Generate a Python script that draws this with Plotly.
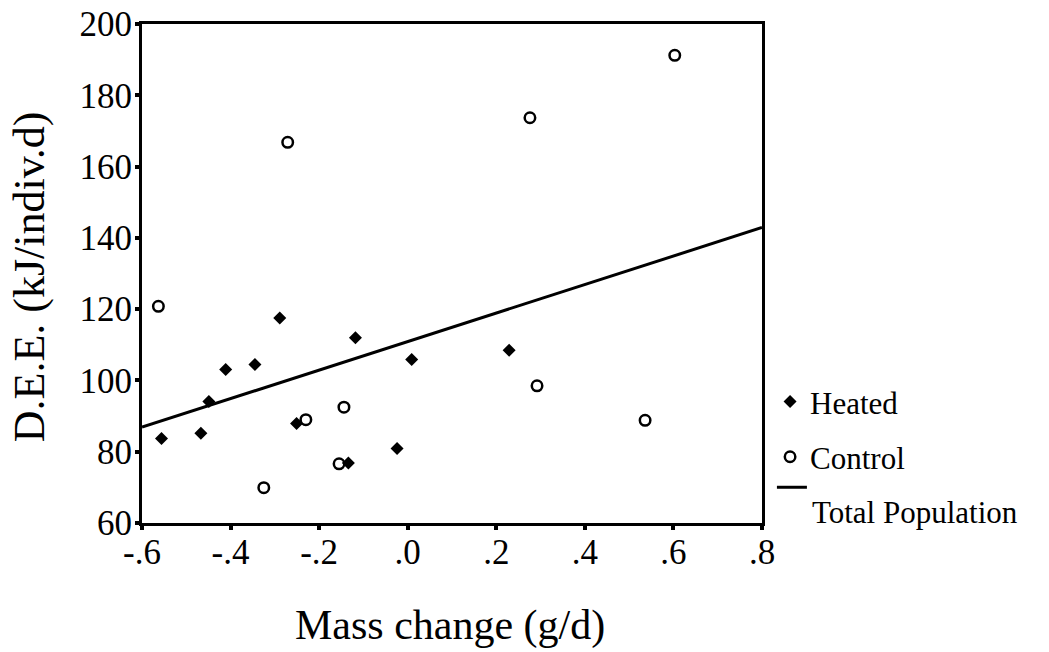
import plotly.graph_objects as go

# values
heated_x = [-0.556, -0.467, -0.449, -0.411, -0.345, -0.289, -0.251, -0.134, -0.118, -0.024, 0.009, 0.229]
heated_y = [83.7, 85.2, 94.1, 103.1, 104.5, 117.5, 87.9, 76.8, 112.0, 80.9, 105.9, 108.5]

control_x = [-0.563, -0.325, -0.271, -0.230, -0.155, -0.144, 0.276, 0.292, 0.536, 0.603]
control_y = [120.8, 69.9, 166.8, 89.0, 76.6, 92.5, 173.7, 98.5, 88.8, 191.2]

# regression line for all birds (end points as drawn)
fit_x = [-0.6, 0.8]
fit_y = [86.9, 142.9]

x_ticks = [-0.6, -0.4, -0.2, 0.0, 0.2, 0.4, 0.6, 0.8]
x_labels = ["-.6", "-.4", "-.2", ".0", ".2", ".4", ".6", ".8"]
y_ticks = [60, 80, 100, 120, 140, 160, 180, 200]

serif = "Liberation Serif"

fig = go.Figure()

fig.add_trace(go.Scatter(x=heated_x, y=heated_y, mode="markers", name="Heated",
                         legendgroup="a",
                         marker=dict(symbol="diamond", size=10, color="black")))

fig.add_trace(go.Scatter(x=control_x, y=control_y, mode="markers", name="Control",
                         legendgroup="b",
                         marker=dict(symbol="circle-open", size=10.5, color="black",
                                     line=dict(width=2.5, color="black"))))

# line entry sits in its own legend: symbol on an empty first line, text below it
fig.add_trace(go.Scatter(x=fit_x, y=fit_y, mode="lines", legend="legend2",
                         name="\u00a0<br><span style='font-size:31px'>Total Population</span>",
                         line=dict(color="black", width=3)))

axis_style = dict(showline=True, linecolor="black", linewidth=3, mirror=True,
                  ticks="outside", ticklen=4, tickwidth=4, tickcolor="black",
                  showgrid=False, zeroline=False, automargin=False,
                  ticklabeloverflow="allow",
                  tickfont=dict(family=serif, size=35, color="black"))

fig.update_xaxes(range=[-0.6, 0.8], tickvals=x_ticks, ticktext=x_labels,
                 ticklabelstandoff=-8, **axis_style)
fig.update_yaxes(range=[60, 200], tickvals=y_ticks, ticklabelstandoff=-4, **axis_style)

# axis titles as annotations so they sit where the original has them
fig.add_annotation(text="Mass change (g/d)", xref="paper", yref="paper",
                   x=0.497, y=-0.205, xanchor="center", yanchor="middle",
                   showarrow=False, font=dict(family=serif, size=42, color="black"))
fig.add_annotation(text="D.E.E. (kJ/indiv.d)", xref="paper", yref="paper",
                   x=-0.181, y=0.494, xanchor="center", yanchor="middle", textangle=-90,
                   showarrow=False, font=dict(family=serif, size=44, color="black"))

fig.update_layout(
    width=1049, height=652,
    margin=dict(l=142, r=287, t=24, b=129),
    paper_bgcolor="white", plot_bgcolor="white",
    font=dict(family=serif, color="black"),
    legend=dict(x=1.013, y=0.297, xanchor="left", yanchor="top",
                font=dict(family=serif, size=31, color="black"),
                bgcolor="rgba(0,0,0,0)", borderwidth=0,
                tracegroupgap=12, itemsizing="trace"),
    legend2=dict(x=1.016, y=0.112, xanchor="left", yanchor="top",
                 font=dict(family=serif, size=21, color="black"),
                 bgcolor="rgba(0,0,0,0)", borderwidth=0,
                 valign="top"),
)

# drop the default 8px page margin so the figure fills the window exactly
fig.write_html("out.html", config={"displayModeBar": False},
               post_script="document.body.style.margin='0px';")
